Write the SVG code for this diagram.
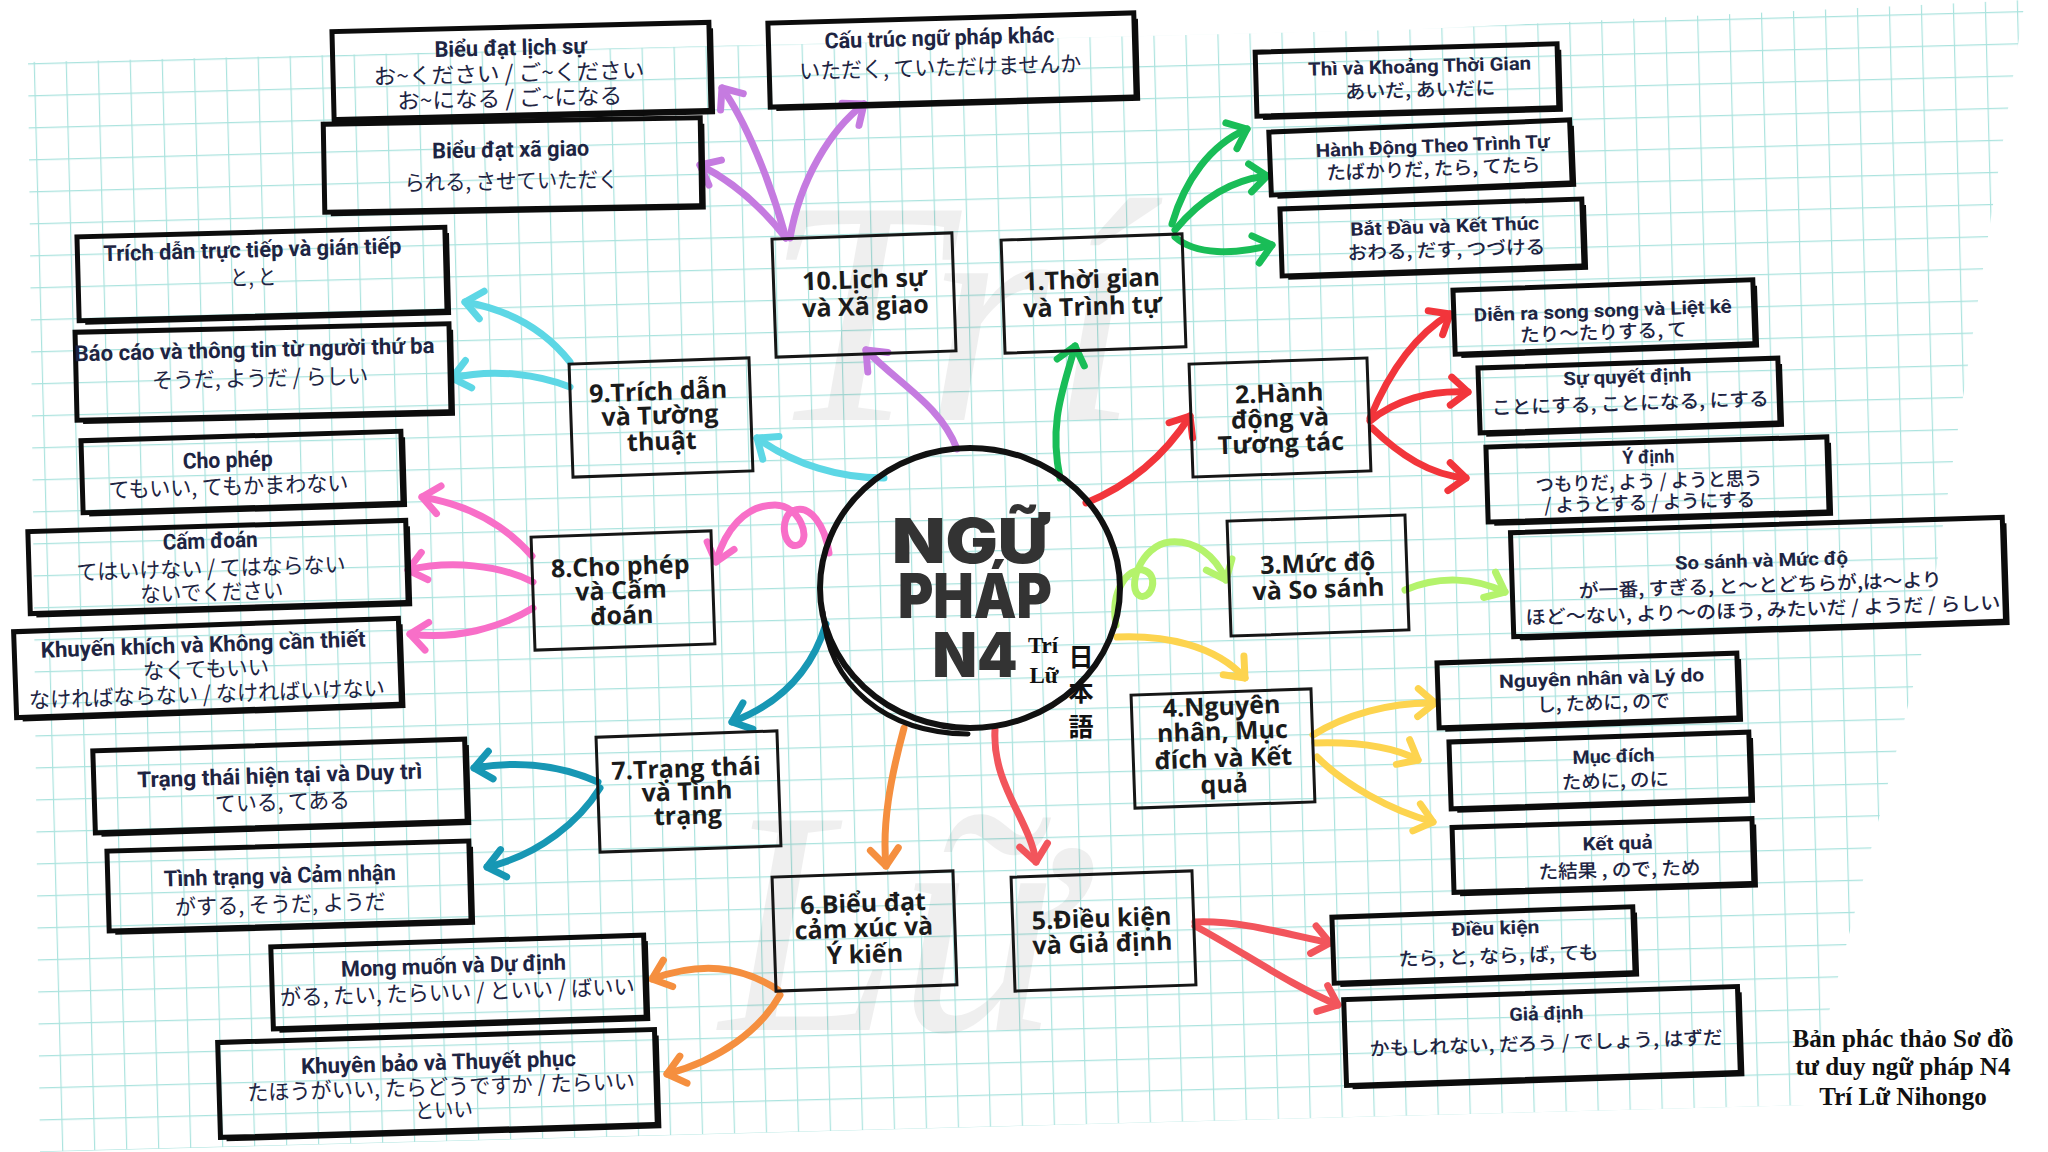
<svg xmlns="http://www.w3.org/2000/svg" width="2048" height="1152" viewBox="0 0 2048 1152">
<defs>
<pattern id="grid" width="32" height="32" patternUnits="userSpaceOnUse" patternTransform="rotate(-1.5)">
<path d="M 32 0 H 0 V 32" fill="none" stroke="#abe3de" stroke-width="2.4"/>
</pattern>
<marker id="mPu" markerUnits="userSpaceOnUse" markerWidth="50" markerHeight="50" viewBox="-25 -25 50 50" refX="0" refY="0" orient="auto"><path d="M -17 -14 L 0 0 L -17 14" fill="none" stroke="#c57be0" stroke-width="7" stroke-linecap="round" stroke-linejoin="round"/></marker>
<marker id="mGr" markerUnits="userSpaceOnUse" markerWidth="50" markerHeight="50" viewBox="-25 -25 50 50" refX="0" refY="0" orient="auto"><path d="M -17 -14 L 0 0 L -17 14" fill="none" stroke="#19bd57" stroke-width="7" stroke-linecap="round" stroke-linejoin="round"/></marker>
<marker id="mRe" markerUnits="userSpaceOnUse" markerWidth="50" markerHeight="50" viewBox="-25 -25 50 50" refX="0" refY="0" orient="auto"><path d="M -17 -14 L 0 0 L -17 14" fill="none" stroke="#f2353b" stroke-width="7" stroke-linecap="round" stroke-linejoin="round"/></marker>
<marker id="mLg" markerUnits="userSpaceOnUse" markerWidth="50" markerHeight="50" viewBox="-25 -25 50 50" refX="0" refY="0" orient="auto"><path d="M -17 -14 L 0 0 L -17 14" fill="none" stroke="#b4f36c" stroke-width="7" stroke-linecap="round" stroke-linejoin="round"/></marker>
<marker id="mYe" markerUnits="userSpaceOnUse" markerWidth="50" markerHeight="50" viewBox="-25 -25 50 50" refX="0" refY="0" orient="auto"><path d="M -17 -14 L 0 0 L -17 14" fill="none" stroke="#fdd44f" stroke-width="7" stroke-linecap="round" stroke-linejoin="round"/></marker>
<marker id="mCo" markerUnits="userSpaceOnUse" markerWidth="50" markerHeight="50" viewBox="-25 -25 50 50" refX="0" refY="0" orient="auto"><path d="M -17 -14 L 0 0 L -17 14" fill="none" stroke="#f2555c" stroke-width="7" stroke-linecap="round" stroke-linejoin="round"/></marker>
<marker id="mOr" markerUnits="userSpaceOnUse" markerWidth="50" markerHeight="50" viewBox="-25 -25 50 50" refX="0" refY="0" orient="auto"><path d="M -17 -14 L 0 0 L -17 14" fill="none" stroke="#f58f3f" stroke-width="7" stroke-linecap="round" stroke-linejoin="round"/></marker>
<marker id="mTe" markerUnits="userSpaceOnUse" markerWidth="50" markerHeight="50" viewBox="-25 -25 50 50" refX="0" refY="0" orient="auto"><path d="M -17 -14 L 0 0 L -17 14" fill="none" stroke="#1797b4" stroke-width="7" stroke-linecap="round" stroke-linejoin="round"/></marker>
<marker id="mPk" markerUnits="userSpaceOnUse" markerWidth="50" markerHeight="50" viewBox="-25 -25 50 50" refX="0" refY="0" orient="auto"><path d="M -17 -14 L 0 0 L -17 14" fill="none" stroke="#f86fc8" stroke-width="7" stroke-linecap="round" stroke-linejoin="round"/></marker>
<marker id="mCy" markerUnits="userSpaceOnUse" markerWidth="50" markerHeight="50" viewBox="-25 -25 50 50" refX="0" refY="0" orient="auto"><path d="M -17 -14 L 0 0 L -17 14" fill="none" stroke="#5dd7e5" stroke-width="7" stroke-linecap="round" stroke-linejoin="round"/></marker>
</defs>
<style>
.cat{fill:none;stroke:#161616;stroke-width:3}
.leaf{fill:none;stroke:#0c0c0c;stroke-width:5}
.sh{fill:none;stroke:#0c0c0c;stroke-width:4}
.ct{font-family:"Open Sans","Noto Sans",sans-serif;font-weight:700;font-size:25px;fill:#1b1b1b;text-anchor:middle}
.lt{font-family:Roboto,"Noto Sans",sans-serif;font-weight:700;font-size:22px;fill:#1e2442;text-anchor:middle}
.rt{font-family:Roboto,"Noto Sans",sans-serif;font-weight:700;font-size:18.5px;fill:#1e2442;text-anchor:middle}
.lj{font-family:"Noto Sans CJK JP",sans-serif;font-weight:400;font-size:22px;fill:#1e2442;text-anchor:middle}
.rj{font-family:"Noto Sans CJK JP",sans-serif;font-weight:500;font-size:19px;fill:#1e2442;text-anchor:middle}
.cn{fill:none;stroke-width:7;stroke-linecap:round;stroke-linejoin:round}
.pu{stroke:#c57be0;marker-end:url(#mPu)}
.gr{stroke:#19bd57;marker-end:url(#mGr)}
.re{stroke:#f2353b;marker-end:url(#mRe)}
.lg{stroke:#b4f36c;marker-end:url(#mLg)}
.ye{stroke:#fdd44f;marker-end:url(#mYe)}
.co{stroke:#f2555c;marker-end:url(#mCo)}
.or{stroke:#f58f3f;marker-end:url(#mOr)}
.te{stroke:#1797b4;marker-end:url(#mTe)}
.pk{stroke:#f86fc8;marker-end:url(#mPk)}
.cy{stroke:#5dd7e5;marker-end:url(#mCy)}
.wm{font-family:"Liberation Serif",serif;font-style:italic;font-size:320px;fill:#000;opacity:0.06}
.ft{font-family:"Liberation Serif",serif;font-weight:700;font-size:25px;fill:#111;text-anchor:middle}
.big{font-family:Inter,Roboto,"Liberation Sans",sans-serif;font-weight:900;font-size:62px;fill:#333;text-anchor:middle}
</style>
<rect x="0" y="0" width="2048" height="1152" fill="#ffffff"/>
<polygon points="28,62 1400,30 2025,0 1925,640 1805,1105 40,1152" fill="url(#grid)"/>
<g id="watermark">
<text class="wm" x="765" y="420">Trí</text>
<text class="wm" x="720" y="1030">Lữ</text>
</g>

<g id="connectors">
<path class="cn pu" d="M 957 449 C 940 405 900 385 866 350"/>
<path class="cn pu" d="M 786 238 C 770 180 745 120 722 88"/>
<path class="cn pu" d="M 786 238 C 760 205 730 180 700 165"/>
<path class="cn pu" d="M 790 238 C 800 180 830 130 864 104"/>
<path class="cn gr" d="M 1060 478 C 1048 420 1065 385 1075 346"/>
<path class="cn gr" d="M 1172 224 C 1185 180 1210 145 1247 129"/>
<path class="cn gr" d="M 1175 230 C 1200 200 1230 180 1267 176"/>
<path class="cn gr" d="M 1175 237 C 1195 255 1235 255 1272 245"/>
<path class="cn re" d="M 1086 503 C 1130 485 1165 455 1190 416"/>
<path class="cn re" d="M 1370 418 C 1390 370 1415 335 1450 314"/>
<path class="cn re" d="M 1370 421 C 1395 400 1430 390 1468 392"/>
<path class="cn re" d="M 1372 428 C 1400 455 1430 475 1466 478"/>
<path class="cn lg" d="M 1116 625 C 1110 590 1128 568 1143 570 C 1160 574 1152 600 1140 596 C 1126 590 1140 545 1170 542 C 1195 540 1215 555 1226 580"/>
<path class="cn lg" d="M 1405 590 C 1440 575 1475 578 1505 592"/>
<path class="cn ye" d="M 1117 637 C 1165 635 1215 645 1245 678"/>
<path class="cn ye" d="M 1313 735 C 1345 715 1390 702 1435 703"/>
<path class="cn ye" d="M 1315 743 C 1350 742 1390 745 1418 760"/>
<path class="cn ye" d="M 1317 757 C 1345 785 1390 810 1433 822"/>
<path class="cn co" d="M 995 730 C 992 785 1030 820 1036 862"/>
<path class="cn co" d="M 1195 922 C 1240 920 1290 935 1330 943"/>
<path class="cn co" d="M 1195 926 C 1240 950 1290 985 1338 1005"/>
<path class="cn or" d="M 904 728 C 890 780 882 825 886 866"/>
<path class="cn or" d="M 778 990 C 740 965 700 962 652 979"/>
<path class="cn or" d="M 780 995 C 760 1030 720 1060 667 1074"/>
<path class="cn te" d="M 826 624 C 815 660 790 700 732 722"/>
<path class="cn te" d="M 598 782 C 560 765 520 760 474 768"/>
<path class="cn te" d="M 600 788 C 580 820 540 855 487 867"/>
<path class="cn pk" d="M 829 553 C 825 525 810 505 795 510 C 778 515 783 550 798 545 C 812 540 800 505 775 505 C 745 505 725 530 716 562"/>
<path class="cn pk" d="M 532 556 C 505 525 470 505 422 497"/>
<path class="cn pk" d="M 533 582 C 500 565 450 560 408 570"/>
<path class="cn pk" d="M 533 608 C 500 628 455 640 410 634"/>
<path class="cn cy" d="M 884 478 C 840 478 795 465 757 438"/>
<path class="cn cy" d="M 570 362 C 545 330 510 310 465 302"/>
<path class="cn cy" d="M 570 387 C 540 375 495 368 452 378"/>
</g>

<g id="center">
<ellipse cx="970" cy="588" rx="150" ry="140" fill="none" stroke="#111" stroke-width="6"/>
<path d="M 823 612 C 828 685 885 733 968 734" fill="none" stroke="#111" stroke-width="5" stroke-linecap="round"/>
<text class="big" x="970" y="563" textLength="156" lengthAdjust="spacingAndGlyphs">NGỮ</text>
<text class="big" x="975" y="618" textLength="154" lengthAdjust="spacingAndGlyphs">PHÁP</text>
<text class="big" x="975" y="677" textLength="85" lengthAdjust="spacingAndGlyphs">N4</text>
<text x="1043" y="653" font-family="'Liberation Serif',serif" font-weight="700" font-size="23" fill="#111" text-anchor="middle">Trí</text>
<text x="1044" y="683" font-family="'Liberation Serif',serif" font-weight="700" font-size="23" fill="#111" text-anchor="middle">Lữ</text>
<text font-family="'Noto Sans CJK JP',sans-serif" font-weight="700" font-size="25" fill="#111" text-anchor="middle"><tspan x="1081" y="666">日</tspan><tspan x="1081" y="701">本</tspan><tspan x="1081" y="736">語</tspan></text>
</g>

<g id="cat1" transform="rotate(-2 1093 293)"><rect class="cat" x="1003" y="237" width="181" height="113"/><text class="ct" x="1092" y="288">1.Thời gian</text><text class="ct" x="1092" y="315">và Trình tự</text></g>
<g id="cat2" transform="rotate(-2 1280 418)"><rect class="cat" x="1191" y="361" width="178" height="113"/><text class="ct" x="1280" y="402">2.Hành</text><text class="ct" x="1280" y="427">động và</text><text class="ct" x="1280" y="452">Tương tác</text></g>
<g id="cat3" transform="rotate(-2 1318 575)"><rect class="cat" x="1229" y="518" width="178" height="115"/><text class="ct" x="1318" y="572">3.Mức độ</text><text class="ct" x="1318" y="598">và So sánh</text></g>
<g id="cat4" transform="rotate(-2 1223 749)"><rect class="cat" x="1133" y="692" width="180" height="113"/><text class="ct" x="1223" y="715">4.Nguyên</text><text class="ct" x="1223" y="740">nhân, Mục</text><text class="ct" x="1223" y="767">đích và Kết</text><text class="ct" x="1223" y="793">quả</text></g>
<g id="cat5" transform="rotate(-2 1104 931)"><rect class="cat" x="1013" y="874" width="181" height="114"/><text class="ct" x="1102" y="927">5.Điều kiện</text><text class="ct" x="1102" y="952">và Giả định</text></g>
<g id="cat6" transform="rotate(-2 864 931)"><rect class="cat" x="774" y="874" width="181" height="114"/><text class="ct" x="864" y="912">6.Biểu đạt</text><text class="ct" x="864" y="937">cảm xúc và</text><text class="ct" x="864" y="963">Ý kiến</text></g>
<g id="cat7" transform="rotate(-2 689 792)"><rect class="cat" x="598" y="734" width="181" height="115"/><text class="ct" x="687" y="777">7.Trạng thái</text><text class="ct" x="687" y="800">và Tình</text><text class="ct" x="687" y="824">trạng</text></g>
<g id="cat8" transform="rotate(-2 623 591)"><rect class="cat" x="533" y="534" width="180" height="113"/><text class="ct" x="621" y="575">8.Cho phép</text><text class="ct" x="621" y="599">và Cấm</text><text class="ct" x="621" y="624">đoán</text></g>
<g id="cat9" transform="rotate(-2 661 418)"><rect class="cat" x="571" y="361" width="180" height="113"/><text class="ct" x="659" y="400">9.Trích dẫn</text><text class="ct" x="660" y="424">và Tường</text><text class="ct" x="661" y="450">thuật</text></g>
<g id="cat10" transform="rotate(-2 864 295)"><rect class="cat" x="774" y="236" width="180" height="118"/><text class="ct" x="865" y="288">10.Lịch sự</text><text class="ct" x="865" y="315">và Xã giao</text></g>

<g id="leaf-bieu-dat-lich-su" transform="rotate(-1.4 521 71)"><rect class="leaf" x="333" y="27" width="377" height="88"/><path class="sh" d="M 712 33 V 117 H 339"/><text class="lt" x="511" y="55" textLength="152" lengthAdjust="spacingAndGlyphs">Biểu đạt lịch sự</text><text class="lj" x="509" y="81" textLength="271" lengthAdjust="spacingAndGlyphs">お~ください / ご~ください</text><text class="lj" x="509" y="106" textLength="225" lengthAdjust="spacingAndGlyphs">お~になる / ご~になる</text></g>
<g id="leaf-cau-truc-khac" transform="rotate(-1.6 952 60)"><rect class="leaf" x="769" y="18" width="366" height="84"/><path class="sh" d="M 1137 24 V 104 H 775"/><text class="lt" x="940" y="45" textLength="230" lengthAdjust="spacingAndGlyphs">Cấu trúc ngữ pháp khác</text><text class="lj" x="940" y="75" textLength="282" lengthAdjust="spacingAndGlyphs">いただく, ていただけませんか</text></g>
<g id="leaf-xa-giao" transform="rotate(-1 512 165)"><rect class="leaf" x="324" y="121" width="377" height="88"/><path class="sh" d="M 703 127 V 211 H 330"/><text class="lt" x="511" y="157" textLength="157" lengthAdjust="spacingAndGlyphs">Biểu đạt xã giao</text><text class="lj" x="511" y="189" textLength="214" lengthAdjust="spacingAndGlyphs">られる, させていただく</text></g>
<g id="leaf-trich-dan" transform="rotate(-1.5 262 274)"><rect class="leaf" x="78" y="232" width="368" height="84"/><path class="sh" d="M 448 238 V 318 H 84"/><text class="lt" x="253" y="257" textLength="298" lengthAdjust="spacingAndGlyphs">Trích dẫn trực tiếp và gián tiếp</text><text class="lj" x="253" y="285" textLength="46" lengthAdjust="spacingAndGlyphs">と, と</text></g>
<g id="leaf-bao-cao" transform="rotate(-1.3 263 372)"><rect class="leaf" x="76" y="328" width="374" height="88"/><path class="sh" d="M 452 334 V 418 H 82"/><text class="lt" x="255" y="357" textLength="360" lengthAdjust="spacingAndGlyphs">Báo cáo và thông tin từ người thứ ba</text><text class="lj" x="260" y="386" textLength="216" lengthAdjust="spacingAndGlyphs">そうだ, ようだ / らしい</text></g>
<g id="leaf-cho-phep" transform="rotate(-1.7 242 472)"><rect class="leaf" x="82" y="436" width="320" height="72"/><path class="sh" d="M 404 442 V 510 H 88"/><text class="lt" x="228" y="467" textLength="90" lengthAdjust="spacingAndGlyphs">Cho phép</text><text class="lj" x="228" y="494" textLength="240" lengthAdjust="spacingAndGlyphs">てもいい, てもかまわない</text></g>
<g id="leaf-cam-doan" transform="rotate(-1.7 218 567)"><rect class="leaf" x="29" y="526" width="378" height="82"/><path class="sh" d="M 409 532 V 610 H 35"/><text class="lt" x="211" y="548" textLength="95" lengthAdjust="spacingAndGlyphs">Cấm đoán</text><text class="lj" x="211" y="576" textLength="269" lengthAdjust="spacingAndGlyphs">てはいけない / てはならない</text><text class="lj" x="211" y="600" textLength="143" lengthAdjust="spacingAndGlyphs">ないでください</text></g>
<g id="leaf-khuyen-khich" transform="rotate(-2 207 668)"><rect class="leaf" x="15" y="625" width="385" height="86"/><path class="sh" d="M 402 631 V 713 H 21"/><text class="lt" x="204" y="652" textLength="325" lengthAdjust="spacingAndGlyphs">Khuyến khích và Không cần thiết</text><text class="lj" x="206" y="677" textLength="126" lengthAdjust="spacingAndGlyphs">なくてもいい</text><text class="lj" x="206" y="702" textLength="356" lengthAdjust="spacingAndGlyphs">なければならない / なければいけない</text></g>
<g id="leaf-trang-thai" transform="rotate(-1.8 280 786)"><rect class="leaf" x="94" y="745" width="372" height="82"/><path class="sh" d="M 468 751 V 829 H 100"/><text class="lt" x="280" y="783" textLength="285" lengthAdjust="spacingAndGlyphs">Trạng thái hiện tại và Duy trì</text><text class="lj" x="282" y="810" textLength="135" lengthAdjust="spacingAndGlyphs">ている, てある</text></g>
<g id="leaf-tinh-trang" transform="rotate(-1.6 289 886)"><rect class="leaf" x="108" y="846" width="362" height="80"/><path class="sh" d="M 472 852 V 928 H 114"/><text class="lt" x="280" y="883" textLength="232" lengthAdjust="spacingAndGlyphs">Tình trạng và Cảm nhận</text><text class="lj" x="280" y="912" textLength="211" lengthAdjust="spacingAndGlyphs">がする, そうだ, ようだ</text></g>
<g id="leaf-mong-muon" transform="rotate(-1.8 458 982)"><rect class="leaf" x="272" y="941" width="373" height="82"/><path class="sh" d="M 647 947 V 1025 H 278"/><text class="lt" x="454" y="973" textLength="225" lengthAdjust="spacingAndGlyphs">Mong muốn và Dự định</text><text class="lj" x="457" y="1000" textLength="355" lengthAdjust="spacingAndGlyphs">がる, たい, たらいい / といい / ばいい</text></g>
<g id="leaf-khuyen-bao" transform="rotate(-1.7 437 1084)"><rect class="leaf" x="219" y="1036" width="437" height="95"/><path class="sh" d="M 658 1042 V 1133 H 225"/><text class="lt" x="439" y="1070" textLength="275" lengthAdjust="spacingAndGlyphs">Khuyên bảo và Thuyết phục</text><text class="lj" x="441" y="1095" textLength="388" lengthAdjust="spacingAndGlyphs">たほうがいい, たらどうですか / たらいい</text><text class="lj" x="443" y="1118" textLength="58" lengthAdjust="spacingAndGlyphs">といい</text></g>

<g id="leaf-thi-khoang" transform="rotate(-1.6 1407 80)"><rect class="leaf" x="1256" y="48" width="302" height="64"/><path class="sh" d="M 1560 54 V 114 H 1262"/><text class="rt" x="1420" y="73" textLength="223" lengthAdjust="spacingAndGlyphs">Thì và Khoảng Thời Gian</text><text class="rj" x="1420" y="97" textLength="150" lengthAdjust="spacingAndGlyphs">あいだ, あいだに</text></g>
<g id="leaf-hanh-dong-theo" transform="rotate(-2.3 1420 158)"><rect class="leaf" x="1270" y="126" width="301" height="63"/><path class="sh" d="M 1573 132 V 191 H 1276"/><text class="rt" x="1433" y="153" textLength="234" lengthAdjust="spacingAndGlyphs">Hành Động Theo Trình Tự</text><text class="rj" x="1433" y="176" textLength="214" lengthAdjust="spacingAndGlyphs">たばかりだ, たら, てたら</text></g>
<g id="leaf-bat-dau" transform="rotate(-1.9 1432 238)"><rect class="leaf" x="1281" y="204" width="302" height="67"/><path class="sh" d="M 1585 210 V 273 H 1287"/><text class="rt" x="1445" y="233" textLength="189" lengthAdjust="spacingAndGlyphs">Bắt Đầu và Kết Thúc</text><text class="rj" x="1446" y="257" textLength="198" lengthAdjust="spacingAndGlyphs">おわる, だす, つづける</text></g>
<g id="leaf-dien-ra" transform="rotate(-2 1604 317)"><rect class="leaf" x="1454" y="285" width="300" height="64"/><path class="sh" d="M 1756 291 V 351 H 1460"/><text class="rt" x="1603" y="317" textLength="258" lengthAdjust="spacingAndGlyphs">Diễn ra song song và Liệt kê</text><text class="rj" x="1603" y="339" textLength="167" lengthAdjust="spacingAndGlyphs">たり〜たりする, て</text></g>
<g id="leaf-su-quyet-dinh" transform="rotate(-1.9 1629 396)"><rect class="leaf" x="1479" y="363" width="300" height="65"/><path class="sh" d="M 1781 369 V 430 H 1485"/><text class="rt" x="1628" y="383" textLength="128" lengthAdjust="spacingAndGlyphs">Sự quyết định</text><text class="rj" x="1630" y="410" textLength="277" lengthAdjust="spacingAndGlyphs">ことにする, ことになる, にする</text></g>
<g id="leaf-y-dinh" transform="rotate(-1.7 1657 480)"><rect class="leaf" x="1487" y="442" width="341" height="75"/><path class="sh" d="M 1830 448 V 519 H 1493"/><text class="rt" x="1649" y="463" textLength="52" lengthAdjust="spacingAndGlyphs">Ý định</text><text class="rj" x="1649" y="488" textLength="227" lengthAdjust="spacingAndGlyphs">つもりだ, よう / ようと思う</text><text class="rj" x="1649" y="509" textLength="211" lengthAdjust="spacingAndGlyphs">/ ようとする / ようにする</text></g>
<g id="leaf-so-sanh" transform="rotate(-1.8 1758 577)"><rect class="leaf" x="1512" y="525" width="492" height="104"/><path class="sh" d="M 2006 531 V 631 H 1518"/><text class="rt" x="1762" y="567" textLength="173" lengthAdjust="spacingAndGlyphs">So sánh và Mức độ</text><text class="rj" x="1760" y="592" textLength="363" lengthAdjust="spacingAndGlyphs">が一番, すぎる, と〜とどちらが,は〜より</text><text class="rj" x="1762" y="617" textLength="475" lengthAdjust="spacingAndGlyphs">ほど〜ない, より〜のほう, みたいだ / ようだ / らしい</text></g>
<g id="leaf-nguyen-nhan" transform="rotate(-1.9 1588 691)"><rect class="leaf" x="1438" y="658" width="300" height="65"/><path class="sh" d="M 1740 664 V 725 H 1444"/><text class="rt" x="1602" y="685" textLength="205" lengthAdjust="spacingAndGlyphs">Nguyên nhân và Lý do</text><text class="rj" x="1603" y="710" textLength="133" lengthAdjust="spacingAndGlyphs">し, ために, ので</text></g>
<g id="leaf-muc-dich" transform="rotate(-1.9 1600 771)"><rect class="leaf" x="1450" y="737" width="300" height="67"/><path class="sh" d="M 1752 743 V 806 H 1456"/><text class="rt" x="1614" y="763" textLength="82" lengthAdjust="spacingAndGlyphs">Mục đích</text><text class="rj" x="1615" y="788" textLength="107" lengthAdjust="spacingAndGlyphs">ために, のに</text></g>
<g id="leaf-ket-qua" transform="rotate(-1.7 1603 856)"><rect class="leaf" x="1453" y="823" width="300" height="65"/><path class="sh" d="M 1755 829 V 890 H 1459"/><text class="rt" x="1618" y="850" textLength="70" lengthAdjust="spacingAndGlyphs">Kết quả</text><text class="rj" x="1619" y="877" textLength="162" lengthAdjust="spacingAndGlyphs">た結果 , ので, ため</text></g>
<g id="leaf-dieu-kien" transform="rotate(-2 1483 945)"><rect class="leaf" x="1333" y="912" width="301" height="66"/><path class="sh" d="M 1636 918 V 980 H 1339"/><text class="rt" x="1496" y="935" textLength="88" lengthAdjust="spacingAndGlyphs">Điều kiện</text><text class="rj" x="1498" y="963" textLength="200" lengthAdjust="spacingAndGlyphs">たら, と, なら, ば, ても</text></g>
<g id="leaf-gia-dinh" transform="rotate(-1.9 1542 1036)"><rect class="leaf" x="1345" y="993" width="394" height="86"/><path class="sh" d="M 1741 999 V 1081 H 1351"/><text class="rt" x="1547" y="1020" textLength="74" lengthAdjust="spacingAndGlyphs">Giả định</text><text class="rj" x="1546" y="1050" textLength="353" lengthAdjust="spacingAndGlyphs">かもしれない, だろう / でしょう, はずだ</text></g>

<g id="footer">
<text class="ft" x="1903" y="1047">Bản phác thảo Sơ đồ</text>
<text class="ft" x="1903" y="1075">tư duy ngữ pháp N4</text>
<text class="ft" x="1903" y="1105">Trí Lữ Nihongo</text>
</g>
</svg>
